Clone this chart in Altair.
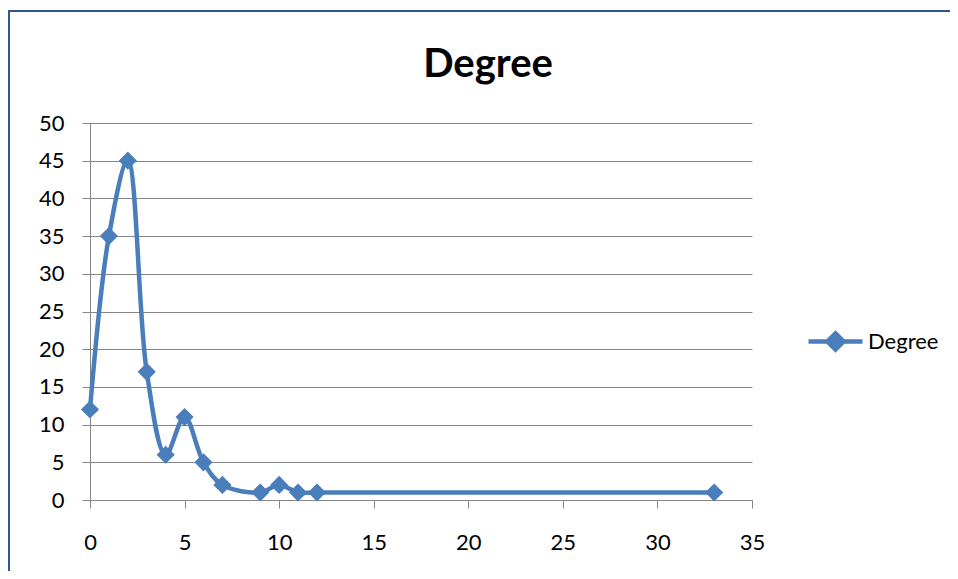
import altair as alt
import pandas as pd

degree_x = [0, 1, 2, 3, 4, 5, 6, 7, 9, 10, 11, 12, 33]
degree_y = [12, 35, 45, 17, 6, 11, 5, 2, 1, 2, 1, 1, 1]
series = ["Degree"] * len(degree_x)
x_ticks = [0, 5, 10, 15, 20, 25, 30, 35]
y_ticks = [0, 5, 10, 15, 20, 25, 30, 35, 40, 45, 50]
chart_title = "Degree"

df = pd.DataFrame({"x": degree_x, "y": degree_y, "series": series})

BLUE = "#4A7EBB"
GRID = "#868686"
FONT = "Lato"
LFS = 22

xenc = alt.X("x:Q", scale=alt.Scale(domain=[0, 35], nice=False, zero=False),
             axis=alt.Axis(values=x_ticks, grid=False, title=None,
                           tickSize=8, labelPadding=24, labelFontSize=LFS,
                           labelFont=FONT, labelColor="#000000", domainColor=GRID,
                           tickColor=GRID, labelFlush=False, labelOverlap=False))
yenc = alt.Y("y:Q", scale=alt.Scale(domain=[0, 50], nice=False),
             axis=alt.Axis(values=y_ticks, tickCount=11, grid=True, gridColor=GRID,
                           title=None, tickSize=8, labelPadding=18, labelFontSize=LFS,
                           labelFont=FONT, labelColor="#000000", domainColor=GRID,
                           tickColor=GRID, labelFlush=False, labelOverlap=False))

legend_symbol = "M-1,0L1,0M0,-0.3L0.3,0L0,0.3L-0.3,0Z"

base = alt.Chart(df).encode(x=xenc, y=yenc)

line = base.mark_line(interpolate="catmull-rom", strokeWidth=4.5).encode(
    color=alt.Color("series:N", scale=alt.Scale(range=[BLUE]),
                    legend=alt.Legend(title=None, orient="none", legendX=716, legendY=189,
                                      symbolType=legend_symbol, symbolSize=2916,
                                      symbolStrokeWidth=4.5, symbolFillColor=BLUE,
                                      symbolStrokeColor=BLUE, labelFontSize=LFS,
                                      labelFont=FONT, labelColor="#000000",
                                      labelOffset=3)),
)
pts = base.mark_point(shape="diamond", filled=True, size=330, opacity=1, color=BLUE)

title = alt.Chart(pd.DataFrame({"t": [chart_title]})).mark_text(
    font=FONT, fontSize=40, fontWeight="bold", color="#000000",
    align="center", baseline="alphabetic").encode(
    text="t:N", x=alt.value(398), y=alt.value(-46))

border = alt.Chart(df).mark_rect(fill=None, stroke="#2F5597", strokeWidth=1.5).encode(
    x=alt.value(-81), y=alt.value(-112), x2=alt.value(1200), y2=alt.value(900))

chart = alt.layer(border, title, line, pts).properties(
    width=662, height=377,
    padding={"left": 82, "top": 115, "right": 198, "bottom": 71},
    autosize=alt.AutoSizeParams(type="none"),
).configure_view(stroke=None)

chart.save("out.html", embed_options={"renderer": "svg", "actions": False})
